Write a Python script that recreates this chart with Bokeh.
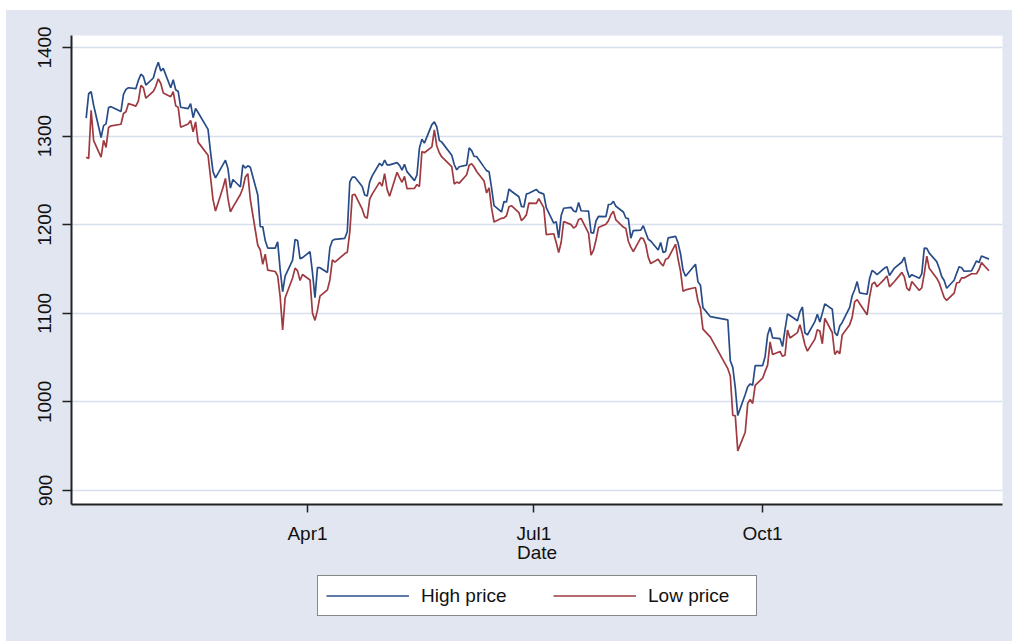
import pandas as pd
from bokeh.plotting import figure
from bokeh.layouts import column
from bokeh.models import (ColumnDataSource, FixedTicker, Legend, LegendItem, Range1d)
from bokeh.embed import file_html
from bokeh.resources import INLINE

# ---- data (S&P 500 daily high / low, 2001) ----
dates = [
 "01-02","01-03","01-04","01-05","01-08","01-09","01-10","01-11","01-12","01-16","01-17","01-18","01-19",
 "01-22","01-23","01-24","01-25","01-26","01-29","01-30","01-31",
 "02-01","02-02","02-05","02-06","02-07","02-08","02-09","02-12","02-13","02-14","02-15","02-16",
 "02-20","02-21","02-22","02-23","02-26","02-27","02-28",
 "03-01","03-02","03-05","03-06","03-07","03-08","03-09","03-12","03-13","03-14","03-15","03-16",
 "03-19","03-20","03-21","03-22","03-23","03-26","03-27","03-28","03-29","03-30",
 "04-02","04-03","04-04","04-05","04-06","04-09","04-10","04-11","04-12","04-16","04-17","04-18",
 "04-19","04-20","04-23","04-24","04-25","04-26","04-27","04-30",
 "05-01","05-02","05-03","05-04","05-07","05-08","05-09","05-10","05-11","05-14","05-15","05-16",
 "05-17","05-18","05-21","05-22","05-23","05-24","05-25","05-29","05-30","05-31",
 "06-01","06-04","06-05","06-06","06-07","06-08","06-11","06-12","06-13","06-14","06-15","06-18",
 "06-19","06-20","06-21","06-22","06-25","06-26","06-27","06-28","06-29",
 "07-02","07-03","07-05","07-06","07-09","07-10","07-11","07-12","07-13","07-16","07-17","07-18",
 "07-19","07-20","07-23","07-24","07-25","07-26","07-27","07-30","07-31",
 "08-01","08-02","08-03","08-06","08-07","08-08","08-09","08-10","08-13","08-14","08-15","08-16",
 "08-17","08-20","08-21","08-22","08-23","08-24","08-27","08-28","08-29","08-30","08-31",
 "09-04","09-05","09-06","09-07","09-10","09-17","09-18","09-19","09-20","09-21","09-24","09-25",
 "09-26","09-27","09-28",
 "10-01","10-02","10-03","10-04","10-05","10-08","10-09","10-10","10-11","10-12","10-15","10-16",
 "10-17","10-18","10-19","10-22","10-23","10-24","10-25","10-26","10-29","10-30","10-31",
 "11-01","11-02","11-05","11-06","11-07","11-08","11-09","11-12","11-13","11-14","11-15","11-16",
 "11-19","11-20","11-21","11-23","11-26","11-27","11-28","11-29","11-30",
 "12-03","12-04","12-05","12-06","12-07","12-10","12-11","12-12","12-13","12-14","12-17","12-18",
 "12-19","12-20","12-21","12-24","12-26","12-27","12-28","12-31",
]

high_price = [
 1320.28,1347.76,1350.24,1334.77,1298.35,1311.72,1313.76,1332.19,1333.21,1327.81,1346.92,1352.71,1354.55,
 1353.62,1362.90,1369.75,1367.35,1357.51,1365.54,1375.68,1383.37,
 1373.50,1376.38,1354.56,1363.55,1352.26,1350.32,1332.53,1330.96,1336.62,1320.73,1331.29,1326.61,
 1307.61,1282.19,1259.94,1252.82,1267.69,1272.76,1263.47,
 1241.36,1251.01,1242.55,1267.42,1263.86,1266.50,1264.74,1233.42,1197.83,1197.66,1182.04,1173.56,
 1173.50,1180.56,1149.39,1124.27,1141.83,1160.02,1183.35,1182.17,1161.69,1162.80,
 1169.51,1145.87,1117.50,1151.47,1151.44,1146.13,1173.92,1182.24,1183.51,1184.64,1192.25,1248.42,
 1253.71,1253.70,1242.98,1233.54,1232.36,1248.30,1255.07,1269.30,
 1266.47,1272.93,1267.43,1267.51,1270.00,1267.01,1261.65,1268.14,1259.84,1249.68,1256.07,1286.39,
 1296.48,1292.06,1312.95,1315.93,1310.00,1295.04,1293.17,1278.42,1267.93,1261.91,
 1265.34,1267.17,1286.62,1283.57,1277.08,1276.96,1264.96,1261.00,1259.75,1241.60,1221.50,1214.36,
 1226.11,1225.61,1240.24,1237.73,1231.50,1220.70,1219.92,1234.44,1235.53,
 1239.78,1236.71,1234.45,1219.24,1201.76,1203.43,1184.93,1210.25,1218.54,1219.63,1215.36,1214.44,
 1225.04,1215.69,1215.22,1191.03,1190.51,1204.18,1209.26,1209.05,1222.75,
 1223.04,1226.27,1220.75,1214.35,1207.56,1206.79,1184.71,1193.33,1193.82,1198.79,1191.21,1183.47,
 1181.66,1171.41,1179.85,1168.56,1169.86,1185.15,1186.85,1179.21,1166.97,1148.56,1141.83,
 1155.40,1135.52,1131.74,1106.40,1096.16,1092.54,1046.42,1038.91,1016.10,984.54,1008.44,1017.14,
 1020.29,1018.92,1040.94,
 1040.94,1051.33,1075.38,1084.12,1072.35,1071.37,1062.44,1081.62,1099.16,1097.43,1091.65,1101.66,
 1107.12,1077.94,1075.52,1090.57,1098.99,1090.26,1100.09,1110.61,1104.61,1078.30,1074.79,
 1085.61,1089.63,1106.72,1119.73,1126.62,1135.75,1123.02,1121.48,1139.14,1148.27,1146.46,1143.52,
 1151.06,1152.45,1142.66,1151.06,1157.88,1163.38,1149.50,1140.40,1143.57,
 1139.45,1144.80,1173.62,1173.35,1167.94,1158.31,1150.89,1141.58,1137.07,1128.28,1137.30,1145.10,
 1152.44,1151.42,1147.46,1147.83,1159.18,1157.13,1164.64,1161.16,
]

low_price = [
 1276.05,1274.62,1329.14,1294.95,1276.29,1295.14,1287.28,1309.72,1311.59,1313.33,1325.41,1327.41,1336.74,
 1333.84,1339.63,1357.28,1354.63,1342.75,1350.36,1356.20,1364.66,
 1359.34,1348.72,1344.48,1350.04,1334.26,1332.42,1309.98,1313.64,1317.51,1304.72,1315.93,1293.18,
 1278.44,1253.71,1228.33,1215.44,1241.71,1252.26,1229.65,
 1214.50,1219.74,1234.04,1241.41,1253.80,1257.60,1228.42,1176.78,1171.50,1155.35,1166.71,1148.64,
 1147.18,1142.19,1118.74,1081.19,1117.58,1139.83,1150.96,1147.83,1136.94,1143.83,
 1137.51,1100.19,1091.99,1103.25,1119.29,1126.38,1137.59,1160.26,1157.73,1167.38,1168.90,1191.81,
 1233.39,1234.41,1217.47,1208.89,1207.38,1228.75,1234.52,1248.07,
 1243.55,1257.70,1239.88,1232.00,1259.19,1253.00,1247.83,1254.56,1240.79,1241.02,1245.28,1243.02,
 1282.65,1281.15,1287.87,1306.89,1288.49,1281.22,1276.42,1265.41,1245.96,1248.07,
 1246.88,1256.36,1267.11,1268.84,1265.08,1259.99,1249.23,1235.75,1241.59,1218.90,1203.03,1207.13,
 1207.71,1210.07,1220.25,1221.41,1213.60,1204.64,1207.35,1211.07,1224.22,
 1224.03,1229.43,1219.15,1188.74,1189.75,1179.93,1168.46,1180.18,1203.61,1200.05,1196.14,1198.33,
 1205.80,1207.04,1190.50,1165.54,1171.28,1182.65,1196.71,1200.41,1204.52,
 1211.23,1215.31,1205.31,1197.35,1195.64,1181.27,1174.68,1169.55,1185.12,1184.26,1177.61,1163.39,
 1156.07,1160.94,1156.56,1153.34,1160.96,1162.09,1178.07,1161.17,1147.38,1124.87,1126.38,
 1129.06,1113.86,1105.83,1082.12,1073.15,1037.46,1029.25,984.62,984.49,944.75,965.80,998.33,
 1002.62,998.24,1018.61,
 1026.76,1034.47,1041.48,1067.82,1053.50,1056.88,1051.41,1052.76,1080.99,1072.15,1078.19,1087.13,
 1076.57,1064.54,1057.24,1070.79,1081.53,1079.98,1065.64,1094.24,1078.30,1053.61,1057.55,
 1054.31,1075.58,1087.20,1095.36,1112.98,1115.42,1111.13,1098.32,1118.33,1132.87,1135.06,1129.92,
 1138.65,1142.17,1129.78,1135.90,1146.17,1140.81,1128.29,1125.51,1135.89,
 1125.78,1128.86,1144.80,1164.43,1150.74,1139.66,1134.32,1126.01,1117.85,1114.53,1122.66,1134.36,
 1134.75,1139.93,1139.93,1144.62,1144.65,1149.37,1157.13,1148.04,
]

x_tick_dates = ["2001-04-01", "2001-07-01", "2001-10-01"]
x_tick_labels = ["Apr1", "Jul1", "Oct1"]
y_ticks = [900, 1000, 1100, 1200, 1300, 1400]
series_labels = ["High price", "Low price"]

# day-of-year index (Jan 1, 2001 = 0)
base = pd.Timestamp("2001-01-01")
day = [(pd.Timestamp("2001-" + d) - base).days for d in dates]
tick_days = [(pd.Timestamp(d) - base).days for d in x_tick_dates]

src = ColumnDataSource(dict(day=day, high=high_price, low=low_price))

BG = "#E1E6F0"
GRID = "#D7DEEC"
BLUE = "#284C87"
RED = "#9E3A40"
FONT = "Liberation Sans"
TXT = "#111111"
AX = "#222222"
LW = 1.7

# ---- main chart ----
p = figure(width=1006, height=562, output_backend="svg", toolbar_location=None,
           x_range=Range1d(-4.9, 369.45), y_range=Range1d(884.2, 1413.5),
           min_border_left=65, min_border_top=25, min_border_right=10, min_border_bottom=68)
p.background_fill_color = "white"
p.border_fill_color = BG
p.outline_line_color = None

r_high = p.line("day", "high", source=src, line_color=BLUE, line_width=LW)
r_low = p.line("day", "low", source=src, line_color=RED, line_width=LW)

p.xgrid.grid_line_color = None
p.ygrid.grid_line_color = GRID
p.ygrid.grid_line_width = 1.5
p.ygrid.ticker = FixedTicker(ticks=y_ticks)

ya = p.yaxis[0]
ya.ticker = FixedTicker(ticks=y_ticks)
ya.major_label_orientation = "vertical"
ya.major_tick_out = 9
ya.major_tick_in = 0
ya.minor_tick_out = 0
ya.minor_tick_in = 0
ya.major_label_standoff = 11
ya.major_label_text_font = FONT
ya.major_label_text_font_size = "19px"
ya.major_label_text_color = TXT
ya.axis_line_color = AX
ya.axis_line_width = 2
ya.major_tick_line_color = AX
ya.major_tick_line_width = 1.5

xa = p.xaxis[0]
xa.ticker = FixedTicker(ticks=tick_days)
xa.major_label_overrides = {t: lab for t, lab in zip(tick_days, x_tick_labels)}
xa.major_tick_out = 8
xa.major_tick_in = 0
xa.minor_tick_out = 0
xa.minor_tick_in = 0
xa.major_label_standoff = 10
xa.major_label_text_font = FONT
xa.major_label_text_font_size = "19px"
xa.major_label_text_color = TXT
xa.axis_label = "Date"
xa.axis_label_standoff = -5
xa.axis_label_text_font = FONT
xa.axis_label_text_font_size = "19px"
xa.axis_label_text_font_style = "normal"
xa.axis_label_text_color = TXT
xa.axis_line_color = AX
xa.axis_line_width = 2
xa.major_tick_line_color = AX
xa.major_tick_line_width = 1.5

# ---- legend strip (series drawn out of view; only the legend shows) ----
pl = figure(width=1006, height=69, output_backend="svg", toolbar_location=None,
            x_range=Range1d(-20, -10), y_range=Range1d(0, 1),
            x_axis_location=None, y_axis_location=None,
            min_border_left=0, min_border_right=0, min_border_top=0, min_border_bottom=0)
pl.background_fill_alpha = 0
pl.border_fill_color = BG
pl.outline_line_color = None
pl.xgrid.grid_line_color = None
pl.ygrid.grid_line_color = None
lh = pl.line("day", "high", source=src, line_color=BLUE, line_width=LW)
ll = pl.line("day", "low", source=src, line_color=RED, line_width=LW)

legend = Legend(items=[LegendItem(label=series_labels[0], renderers=[lh]),
                       LegendItem(label=series_labels[1], renderers=[ll])],
                orientation="horizontal", location=(246, 25))
legend.background_fill_color = "white"
legend.background_fill_alpha = 1
legend.border_line_color = TXT
legend.border_line_width = 1.5
legend.label_text_font = FONT
legend.label_text_font_size = "19px"
legend.label_text_color = TXT
legend.glyph_width = 83
legend.glyph_height = 23
legend.label_height = 23
legend.label_width = 100
legend.label_standoff = 12
legend.spacing = 32
legend.padding = 8
legend.margin = 0
pl.add_layout(legend, "center")

layout = column(p, pl, spacing=0)
layout.margin = (10, 0, 0, 6)
layout.styles = {"background-color": BG}

open("out.html", "w").write(file_html(layout, INLINE))
